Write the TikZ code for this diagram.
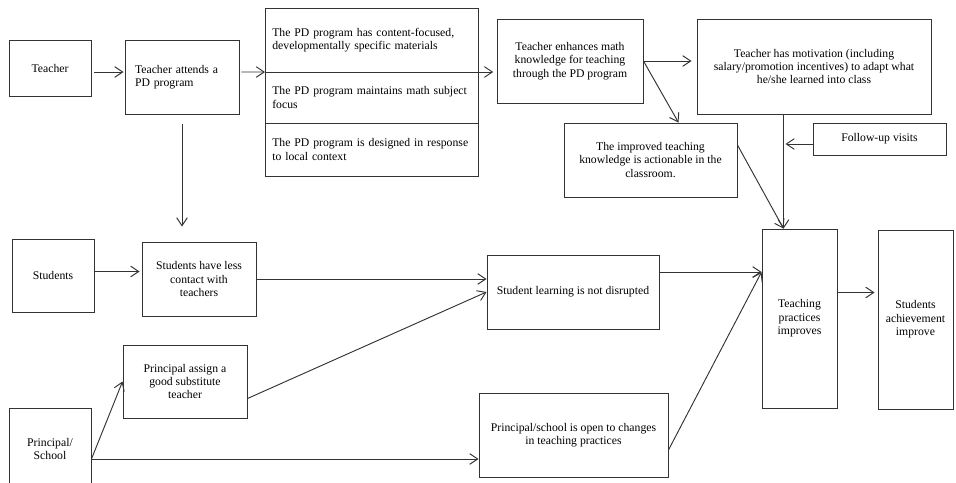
\documentclass[tikz,border=0pt]{standalone}
\usepackage{fontspec}
\setmainfont{Liberation Serif}
\usetikzlibrary{arrows.meta,positioning,calc}
\definecolor{lignegris}{HTML}{333333}

\begin{document}
\begin{tikzpicture}[
  x=0.3mm, y=-0.3mm,
  font=\fontsize{10}{11.5}\selectfont,
  box/.style={draw=lignegris, line width=0.8pt, align=center, inner sep=2pt, fill=white},
  lbox/.style={box, align=left, inner xsep=3mm},
  cell/.style={box, align=left, inner xsep=2.2mm, text width=59.5mm, outer sep=0pt},
  arr/.style={draw=lignegris, line width=0.8pt, -{Straight Barb[length=2.4mm,width=3.2mm]}}
]
\useasboundingbox (0,0) rectangle (956,482);
\node[box, minimum width=24.6mm, minimum height=16.8mm] (teacher) at (50,68) {Teacher};
\node[lbox, text width=28.2mm, minimum height=22.2mm] (attends) at (182,77) {Teacher attends a\\ PD program};
\node[cell, minimum height=19.2mm] (pd1) at (371.5,40) {The PD program has content-focused,\\ developmentally specific materials};
\node[cell, minimum height=15.3mm, below=0pt of pd1] (pd2) {The PD program maintains math subject\\ focus};
\node[cell, minimum height=15.9mm, below=0pt of pd2] (pd3) {The PD program is designed in response\\ to local context};
\node[box, minimum width=43.8mm, minimum height=25.2mm] (enhance) at (570,61) {Teacher enhances math\\ knowledge for teaching\\ through the PD program};
\node[box, minimum width=70.2mm, minimum height=28.5mm] (motivation) at (814,66.5) {Teacher has motivation (including\\ salary/promotion incentives) to adapt what\\ he/she learned into class};
\node[box, minimum width=51.9mm, minimum height=22.2mm] (improved) at (650.5,160) {The improved teaching\\ knowledge is actionable in the\\ classroom.};
\node[box, minimum width=39.9mm, minimum height=9.6mm] (followup) at (879.5,139) {Follow-up visits};
\node[box, minimum width=24.6mm, minimum height=21.9mm] (students) at (53,275.5) {Students};
\node[box, minimum width=34.2mm, minimum height=22.2mm] (lesscontact) at (199,279) {Students have less\\ contact with\\ teachers};
\node[box, minimum width=51.6mm, minimum height=22.2mm] (notdisrupted) at (573,292) {Student learning is not disrupted};
\node[box, minimum width=37.2mm, minimum height=21.9mm] (substitute) at (185,381.5) {Principal assign a\\ good substitute\\ teacher};
\node[box, minimum width=24.6mm, minimum height=24.6mm] (principal) at (50,449) {Principal/\\ School};
\node[box, minimum width=56.7mm, minimum height=25.2mm] (open) at (573.5,435) {Principal/school is open to changes\\ in teaching practices};
\node[box, minimum width=22.5mm, minimum height=53.7mm] (teaching) at (799.5,318.5) {Teaching\\ practices\\ improves};
\node[box, minimum width=22.5mm, minimum height=53.7mm] (achievement) at (915.5,319.5) {Students\\ achievement\\ improve};

\coordinate (tp) at ($(teaching.north)+(-16,0)$);
\coordinate (tw) at ($(teaching.west)+(0,-46.5)$);
\coordinate (ta) at ($(teaching.east)+(0,-26)$);
\coordinate (fu) at ($(followup.west)+(0,5)$);
\coordinate (sl) at ($(students.east)+(0,-4)$);
\coordinate (pe) at ($(principal.east)+(0,10)$);

\draw[arr] ($(teacher.east)+(3,4)$) -- ($(attends.west)+(-1,-5)$);
\draw[arr] ($(attends.east)+(2,-5)$) -- (pd1.south west);
\draw[arr, shorten >=1mm] (pd1.south east) -- (pd1.south east -| enhance.west);
\draw[arr, shorten <=3mm, shorten >=4.5mm] (attends.south) -- (attends.south |- lesscontact.north);
\draw[arr, shorten >=1.5mm] (enhance.east) -- (enhance.east -| motivation.west);
\draw[arr] (enhance.east) -- ($(improved.north)+(28,0)$);
\draw[arr] (motivation.south -| tp) -- (tp);
\draw[arr] ($(improved.east)+(0,-15)$) -- (tp);
\draw[arr, shorten >=0.6mm] (fu) -- (fu -| tp);
\draw[arr, shorten >=0.6mm] (sl) -- (sl -| lesscontact.west);
\draw[arr] (lesscontact.east) -- (lesscontact.east -| notdisrupted.west);
\draw[arr] ($(substitute.east)+(0,17)$) -- (notdisrupted.west);
\draw[arr] (pe) -- (substitute.west);
\draw[arr] (pe) -- (pe -| open.west);
\draw[arr] (tw -| notdisrupted.east) -- (tw);
\draw[arr] ($(open.east)+(0,15)$) -- (tw);
\draw[arr, shorten >=0.9mm] (ta) -- (ta -| achievement.west);
\end{tikzpicture}
\end{document}
